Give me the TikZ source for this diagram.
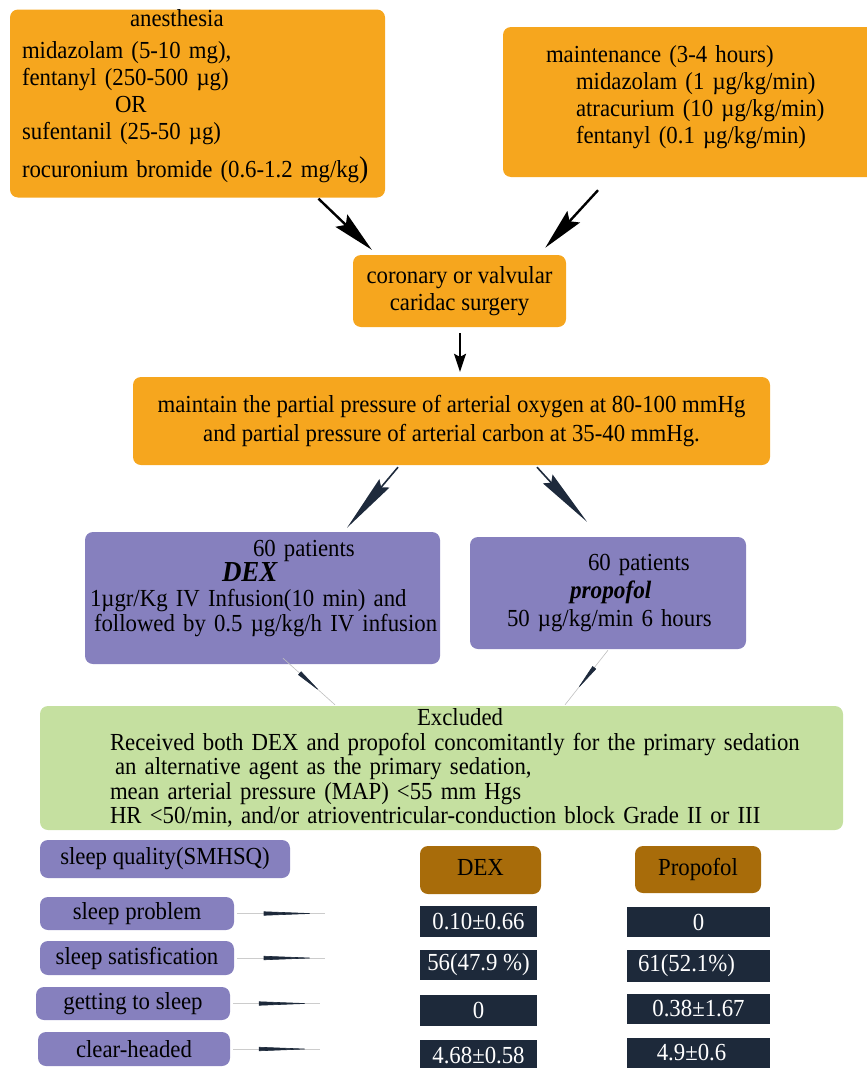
\documentclass[tikz,border=0pt]{standalone}
\usepackage{fontspec}
\setmainfont[FakeStretch=0.93]{Liberation Serif}
\usetikzlibrary{arrows.meta,decorations.markings}
\definecolor{stageorange}{RGB}{246,166,30}
\definecolor{grouppurple}{RGB}{134,128,190}
\definecolor{excludegreen}{RGB}{197,224,160}
\definecolor{headbrown}{RGB}{168,108,10}
\definecolor{celldark}{RGB}{29,41,58}
\definecolor{arrownavy}{RGB}{30,42,60}
\begin{document}
\begin{tikzpicture}[
	x=1pt, y=1pt,
	font=\fontsize{24.5}{27}\selectfont,
	box/.style = {rounded corners=8pt, inner sep=0pt},
	stage/.style = {box, fill=stageorange},
	group/.style = {box, fill=grouppurple},
	item/.style = {box, fill=grouppurple, minimum height=34pt},
	head/.style = {box, fill=headbrown},
	cell/.style = {fill=celldark, text=white, inner sep=0pt},
	bigarrow/.style = {line width=2.4pt, -{Stealth[length=42pt, width=17pt, inset=6pt]}},
	splitarrow/.style = {line width=1.6pt, draw=arrownavy, -{Stealth[length=58pt, width=13pt, inset=5pt]}},
	thinarrow/.style = {draw=black!25, line width=0.6pt, postaction={decorate},
		decoration={markings, mark=at position 0.72 with {\arrow{Stealth[length=28pt, width=4.5pt, inset=0pt, color=arrownavy]}}}},
	taper/.style = {draw=black!20, line width=0.6pt, shorten <=3pt, postaction={decorate},
		decoration={markings, mark=at position 0.92 with {\arrow{Stealth[length=54pt, width=4pt, inset=0pt, color=celldark]}}}}
]
\useasboundingbox (0,0) rectangle (867,-1068);

\node[stage, inner xsep=12pt, text width=351pt, align=left, minimum height=187pt] (anesth) at (197.5,-103.5) {
	\hspace*{108pt}anesthesia\\[5pt]
	midazolam (5-10 mg),\\
	fentanyl (250-500 µg)\\
	\hspace*{93pt}OR\\
	sufentanil (25-50 µg)\\[11pt]
	rocuronium bromide (0.6-1.2 mg/kg{\fontsize{30}{30}\selectfont)}\rule[-20pt]{0pt}{20pt}
};
\node[stage, inner xsep=43pt, text width=326pt, align=left, minimum height=150pt] (maint) at (709,-102) {
	maintenance (3-4 hours)\\
	\hspace*{30pt}midazolam (1 µg/kg/min)\\
	\hspace*{30pt}atracurium (10 µg/kg/min)\\
	\hspace*{30pt}fentanyl (0.1 µg/kg/min)\rule[-16pt]{0pt}{16pt}
};
\node[stage, align=center, minimum width=213pt, minimum height=72pt] (surgery) at (459.5,-291) {
	coronary or valvular\\
	caridac surgery
};
\node[stage, align=center, minimum width=637pt, minimum height=88pt, font=\fontsize{24.5}{29}\selectfont] (oxygen) at (451.5,-421) {
	maintain the partial pressure of arterial oxygen at 80-100 mmHg\\
	and partial pressure of arterial carbon at 35-40 mmHg.
};
\node[group, text width=355pt, align=left, minimum height=132pt, font=\fontsize{24.5}{25}\selectfont] (dex) at (262.5,-598) {
	\hspace*{168pt}60 patients\\
	\hspace*{137pt}{\fontsize{29}{25}\selectfont\bfseries\itshape DEX}\\
	\hspace*{5pt}1µgr/Kg IV Infusion(10 min) and\\
	\hspace*{9pt}\mbox{followed by 0.5 µg/kg/h IV infusion}\rule[-24pt]{0pt}{24pt}
};
\node[group, text width=276pt, align=left, minimum height=112pt, font=\fontsize{24.5}{28}\selectfont] (prop) at (608,-593) {
	\hspace*{118pt}60 patients\\
	\hspace*{100pt}{\fontsize{25}{28}\selectfont\bfseries\itshape propofol}\\
	\hspace*{37pt}50 µg/kg/min 6 hours
};
\node[box, fill=excludegreen, text width=803pt, align=left, minimum height=124pt, font=\fontsize{24.5}{24.5}\selectfont] (excl) at (441.5,-768) {
	\hspace*{377pt}Excluded\\
	\hspace*{70pt}Received both DEX and propofol concomitantly for the primary sedation\\
	\hspace*{75pt}an alternative agent as the primary sedation,\\
	\hspace*{70pt}mean arterial pressure (MAP) <55 mm Hgs\\
	\hspace*{70pt}HR <50/min, and/or atrioventricular-conduction block Grade II or III
};

\node[item, minimum width=250pt, minimum height=38pt] (quality) at (165,-859) {sleep quality(SMHSQ)};
\node[head, minimum width=121pt, minimum height=48pt] (dexhead) at (480.5,-870) {\raisebox{5pt}{DEX}};
\node[head, minimum width=126pt, minimum height=47pt] (prophead) at (698,-869.5) {Propofol};

\node[item, minimum width=194pt, minimum height=33pt] (problem) at (137,-913.5) {sleep problem};
\node[item, minimum width=194pt] (satis) at (137,-958) {sleep satisfication};
\node[item, minimum width=194pt, minimum height=33pt] (getting) at (133,-1003.5) {getting to sleep};
\node[item, minimum width=192pt] (clear) at (134,-1049) {clear-headed};

\coordinate (problemend) at (325,-913.5);
\coordinate (satisend) at (325,-958);
\coordinate (gettingend) at (320,-1003.5);
\coordinate (clearend) at (320,-1049);

\node[cell, minimum width=117pt, minimum height=31pt] (dexa) at (478.5,-921.5) {0.10±0.66};
\node[cell, minimum width=117pt, minimum height=30pt] (dexb) at (478.5,-965) {56(47.9 \%)};
\node[cell, minimum width=117pt, minimum height=31pt] (dexc) at (478.5,-1010.5) {0};
\node[cell, minimum width=117pt, minimum height=32pt] (dexd) at (478.5,-1056) {4.68±0.58};
\node[cell, minimum width=143pt, minimum height=30pt] (propa) at (698.5,-922) {0};
\node[cell, minimum width=143pt, minimum height=32pt] (propb) at (698.5,-966) {\hspace*{-24pt}61(52.1\%)};
\node[cell, minimum width=143pt, minimum height=30pt] (propc) at (698.5,-1009) {0.38±1.67};
\node[cell, minimum width=143pt, minimum height=34pt] (propd) at (698.5,-1055) {\hspace*{-14pt}\raisebox{6pt}{4.9±0.6}};

\draw[bigarrow] ([xshift=121pt,yshift=-1pt]anesth.south) -- ([xshift=19pt,yshift=5pt]surgery.north west);
\draw[bigarrow] ([xshift=-111pt,yshift=-13pt]maint.south) -- ([xshift=-21pt,yshift=7pt]surgery.north east);
\draw[line width=1.5pt, -{Stealth[length=18pt, width=12pt, inset=3pt]}] ([xshift=0.5pt,yshift=-6pt]surgery.south) -- ([xshift=8.5pt,yshift=5pt]oxygen.north);
\draw[splitarrow] ([xshift=-53.5pt,yshift=-2pt]oxygen.south) -- ([xshift=84.5pt,yshift=4pt]dex.north);
\draw[splitarrow] ([xshift=85.5pt,yshift=-2pt]oxygen.south) -- ([xshift=-21pt,yshift=15pt]prop.north);
\draw[thinarrow] ([xshift=20.5pt,yshift=6pt]dex.south) -- ([xshift=-106.5pt,yshift=1pt]excl.north);
\draw[thinarrow] ([yshift=-1pt]prop.south) -- ([xshift=123.5pt,yshift=1pt]excl.north);

\draw[taper] (problem.east) -- (problemend);
\draw[taper] (satis.east) -- (satisend);
\draw[taper] (getting.east) -- (gettingend);
\draw[taper] (clear.east) -- (clearend);
\end{tikzpicture}
\end{document}
